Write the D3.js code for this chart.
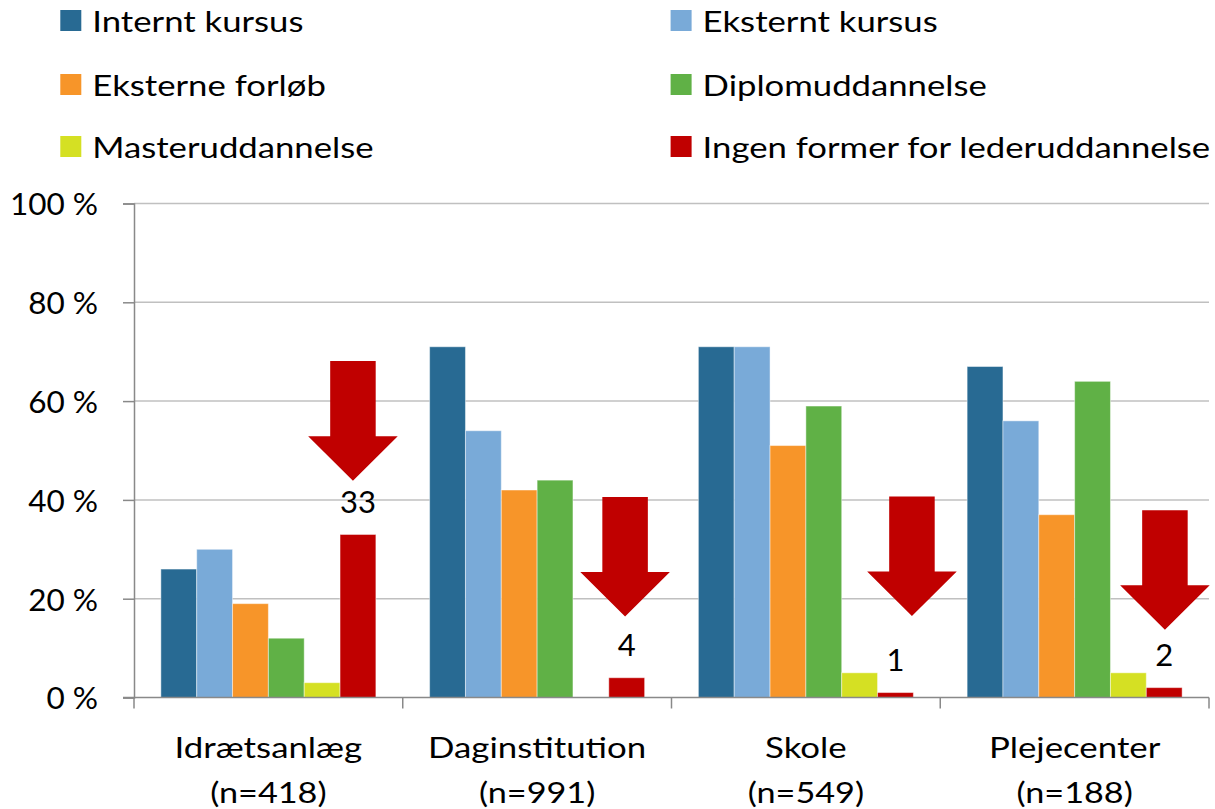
<!DOCTYPE html>
<html><head><meta charset="utf-8">
<script src="https://cdn.jsdelivr.net/npm/d3@7"></script>
<style>
html,body{margin:0;padding:0;background:#fff;}
svg{display:block;font-family:Lato,"Open Sans",sans-serif;}
</style></head>
<body><svg id="c" width="1215" height="809"></svg>
<script>
const categories = ["Idrætsanlæg", "Daginstitution", "Skole", "Plejecenter"];
const nLabels = ["(n=418)", "(n=991)", "(n=549)", "(n=188)"];
const seriesNames = ["Internt kursus","Eksternt kursus","Eksterne forløb","Diplomuddannelse","Masteruddannelse","Ingen former for lederuddannelse"];
const internt = [26, 71, 71, 67];
const eksternt = [30, 54, 71, 56];
const forlob = [19, 42, 51, 37];
const diplom = [12, 44, 59, 64];
const master = [3, 0, 5, 5];
const ingen = [33, 4, 1, 2];
const yTicks = [0, 20, 40, 60, 80, 100];
const yTickLabels = ["0 %", "20 %", "40 %", "60 %", "80 %", "100 %"];
// annotation arrows (top of arrow in %, horizontal shift in bar widths from the red bar)
const arrowTop = [68.1, 40.6, 40.7, 37.9];
const arrowShift = [-0.14, -0.045, 0.46, 0.02];

const colors = ["#286a93","#79aad8","#f79529","#60b146","#d5e023","#c00000"];
const seriesValues = [internt, eksternt, forlob, diplom, master, ingen];

const svg = d3.select("#c");
const mLeft = 134, mRight = 1209, mTop = 203.5, mBottom = 697.5;

const x0 = d3.scaleBand().domain(categories).range([mLeft, mRight]).padding(0);
const x1 = d3.scaleBand().domain(seriesNames)
  .range([x0.bandwidth()*0.1, x0.bandwidth()*0.9]).padding(0);
const y = d3.scaleLinear().domain([0, 100]).range([mBottom, mTop]);

// gridlines
svg.append("g").selectAll("line").data(yTicks.filter(d => d > 0)).join("line")
  .attr("x1", mLeft).attr("x2", mRight)
  .attr("y1", d => y(d)).attr("y2", d => y(d))
  .attr("stroke", "#c0c0c0").attr("stroke-width", 1.5);

// y axis
const yAxis = d3.axisLeft(y).tickValues(yTicks)
  .tickFormat((d, i) => yTickLabels[i]).tickSize(11).tickPadding(25);
const gy = svg.append("g").attr("transform", `translate(${mLeft},0)`).call(yAxis);
gy.select(".domain").attr("stroke", "#898989").attr("stroke-width", 1.5);
gy.selectAll(".tick line").attr("stroke", "#898989").attr("stroke-width", 1.5);
gy.selectAll(".tick text").attr("font-family", "Lato").attr("font-size", 31.5)
  .attr("fill", "#000").attr("dy", "0.36em");

// bars
const groups = svg.append("g").selectAll("g").data(categories).join("g")
  .attr("transform", d => `translate(${x0(d)},0)`);
groups.selectAll("rect").data((c, ci) => seriesNames.map((s, si) => ({s, si, v: seriesValues[si][ci]})))
  .join("rect")
  .attr("x", d => x1(d.s)).attr("width", x1.bandwidth())
  .attr("y", d => y(d.v)).attr("height", d => y(0) - y(d.v))
  .attr("fill", d => colors[d.si])
  .attr("stroke", d => d.v > 0 ? "rgba(255,255,255,0.45)" : "none").attr("stroke-width", 1);

// x axis
const gx = svg.append("g").attr("transform", `translate(0,${mBottom})`);
gx.append("line").attr("x1", mLeft - 11).attr("x2", mRight).attr("y1", 0).attr("y2", 0)
  .attr("stroke", "#898989").attr("stroke-width", 1.5);
const bounds = categories.map(c => x0(c)).concat([x0(categories[categories.length-1]) + x0.bandwidth()]);
gx.selectAll("line.t").data(bounds).join("line").attr("class", "t")
  .attr("x1", d => d).attr("x2", d => d).attr("y1", 0).attr("y2", 11)
  .attr("stroke", "#898989").attr("stroke-width", 1.5);
const catG = gx.selectAll("g.cat").data(categories).join("g").attr("class", "cat");
catG.append("text")
  .attr("transform", d => `translate(${x0(d) + x0.bandwidth()/2},60) scale(1.18,1)`)
  .attr("text-anchor", "middle").attr("font-family", "Lato").attr("font-size", 29.5)
  .attr("fill", "#000").text(d => d);
catG.append("text")
  .attr("transform", d => `translate(${x0(d) + x0.bandwidth()/2},105.5) scale(1.16,1)`)
  .attr("text-anchor", "middle").attr("font-family", "Lato").attr("font-size", 29.5)
  .attr("fill", "#000").text((d, i) => nLabels[i]);

// arrows
const bw = x1.bandwidth();
const redX = c => x0(c) + x1(seriesNames[5]) + bw/2;
const shaftH = y(0) - y(15.2), headH = y(0) - y(9.0);
const shaftW = bw * 1.27, headW = bw * 2.5;
svg.append("g").selectAll("path").data(categories).join("path")
  .attr("d", (c, i) => {
    const cx = redX(c) + arrowShift[i]*bw, t = y(arrowTop[i]);
    const p = d3.path();
    p.moveTo(cx - shaftW/2, t); p.lineTo(cx + shaftW/2, t);
    p.lineTo(cx + shaftW/2, t + shaftH); p.lineTo(cx + headW/2, t + shaftH);
    p.lineTo(cx, t + shaftH + headH); p.lineTo(cx - headW/2, t + shaftH);
    p.lineTo(cx - shaftW/2, t + shaftH); p.closePath();
    return p.toString();
  })
  .attr("fill", "#c00000");

// value labels for the red series
svg.append("g").selectAll("text").data(categories).join("text")
  .attr("x", c => redX(c)).attr("y", (c, i) => y(ingen[i]) - 21.5)
  .attr("text-anchor", "middle").attr("font-family", "Lato").attr("font-size", 31)
  .attr("fill", "#000").text((c, i) => ingen[i]);

// legend
const legCols = [60.3, 670.6], legRows = [10, 74, 136];
const leg = svg.append("g").selectAll("g").data(seriesNames).join("g")
  .attr("transform", (d, i) => `translate(${legCols[i % 2]},${legRows[Math.floor(i / 2)]})`);
leg.append("rect").attr("width", 21).attr("height", 21).attr("fill", (d, i) => colors[i]);
leg.append("text").attr("transform", "translate(32,22.3) scale(1.24,1)")
  .attr("font-family", "Lato").attr("font-size", 28).attr("fill", "#000").text(d => d);
</script>
</body></html>
